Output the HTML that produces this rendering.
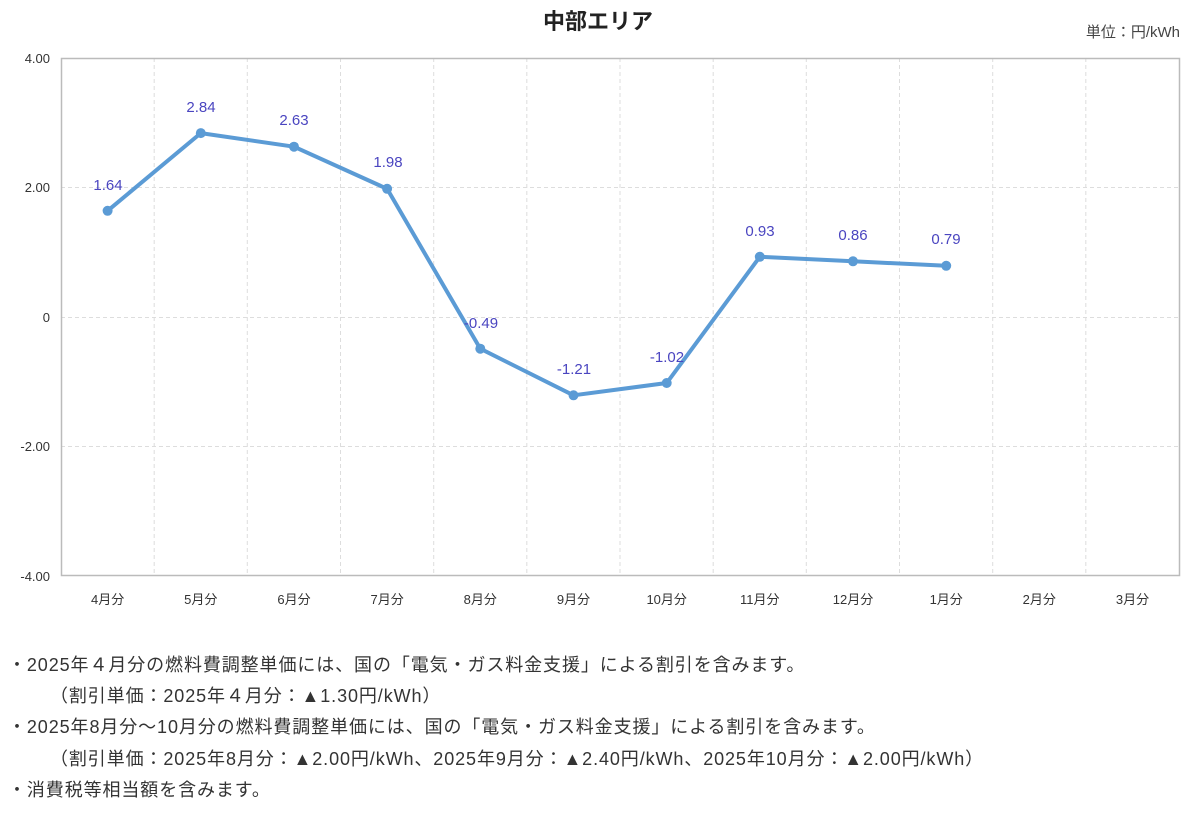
<!DOCTYPE html>
<html><head><meta charset="utf-8"><style>
body{margin:0;background:#fff;width:1200px;height:814px;overflow:hidden;font-family:"Liberation Sans","Noto Sans CJK JP",sans-serif}
.n{position:absolute;left:8px;font-size:18px;letter-spacing:0.9px;color:#333;white-space:nowrap}
</style></head><body>
<svg width="1200" height="640" style="position:absolute;left:0;top:0" font-family="Liberation Sans, Noto Sans CJK JP, sans-serif">
<text x="598" y="29" text-anchor="middle" font-size="22" font-weight="bold" fill="#222">中部エリア</text>
<text x="1180" y="37" text-anchor="end" font-size="15" fill="#444">単位：円/kWh</text>
<g stroke="#ddd" stroke-dasharray="4,3" stroke-width="1">
<line x1="61" y1="187.5" x2="1179" y2="187.5"/><line x1="61" y1="317.5" x2="1179" y2="317.5"/><line x1="61" y1="446.5" x2="1179" y2="446.5"/>
<line x1="154.2" y1="58" x2="154.2" y2="576"/><line x1="247.3" y1="58" x2="247.3" y2="576"/><line x1="340.5" y1="58" x2="340.5" y2="576"/><line x1="433.7" y1="58" x2="433.7" y2="576"/><line x1="526.8" y1="58" x2="526.8" y2="576"/><line x1="620" y1="58" x2="620" y2="576"/><line x1="713.2" y1="58" x2="713.2" y2="576"/><line x1="806.3" y1="58" x2="806.3" y2="576"/><line x1="899.5" y1="58" x2="899.5" y2="576"/><line x1="992.7" y1="58" x2="992.7" y2="576"/><line x1="1085.8" y1="58" x2="1085.8" y2="576"/>
</g>
<rect x="61.5" y="58.5" width="1118" height="517" fill="none" stroke="#bbb" stroke-width="1.5"/>
<g font-size="13" fill="#333" text-anchor="end">
<text x="50" y="63">4.00</text><text x="50" y="192">2.00</text><text x="50" y="322">0</text><text x="50" y="451">-2.00</text><text x="50" y="581">-4.00</text>
</g>
<g font-size="13" fill="#333" text-anchor="middle">
<text x="107.6" y="604">4月分</text><text x="200.8" y="604">5月分</text><text x="294" y="604">6月分</text><text x="387.1" y="604">7月分</text><text x="480.3" y="604">8月分</text><text x="573.5" y="604">9月分</text><text x="666.7" y="604">10月分</text><text x="759.8" y="604">11月分</text><text x="853" y="604">12月分</text><text x="946.2" y="604">1月分</text><text x="1039.3" y="604">2月分</text><text x="1132.5" y="604">3月分</text>
</g>
<polyline fill="none" stroke="#5b9bd5" stroke-width="4" stroke-linejoin="round" points="107.6,210.8 200.8,133.1 294,146.7 387.1,188.8 480.3,348.7 573.5,395.3 666.7,383 759.8,256.8 853,261.3 946.2,265.8"/>
<g fill="#5b9bd5">
<circle cx="107.6" cy="210.8" r="5"/><circle cx="200.8" cy="133.1" r="5"/><circle cx="294" cy="146.7" r="5"/><circle cx="387.1" cy="188.8" r="5"/><circle cx="480.3" cy="348.7" r="5"/><circle cx="573.5" cy="395.3" r="5"/><circle cx="666.7" cy="383" r="5"/><circle cx="759.8" cy="256.8" r="5"/><circle cx="853" cy="261.3" r="5"/><circle cx="946.2" cy="265.8" r="5"/>
</g>
<g font-size="15" fill="#4a45c0" text-anchor="middle">
<text x="108" y="190">1.64</text><text x="201" y="112">2.84</text><text x="294" y="125">2.63</text><text x="388" y="167">1.98</text><text x="481" y="328">-0.49</text><text x="574" y="374">-1.21</text><text x="667" y="362">-1.02</text><text x="760" y="236">0.93</text><text x="853" y="240">0.86</text><text x="946" y="244">0.79</text>
</g>
</svg>
<div class="n" style="top:651px">・2025年４月分の燃料費調整単価には、国の「電気・ガス料金支援」による割引を含みます。</div>
<div class="n" style="top:682px;left:50px">（割引単価：2025年４月分：▲1.30円/kWh）</div>
<div class="n" style="top:713px">・2025年8月分～10月分の燃料費調整単価には、国の「電気・ガス料金支援」による割引を含みます。</div>
<div class="n" style="top:745px;left:50px">（割引単価：2025年8月分：▲2.00円/kWh、2025年9月分：▲2.40円/kWh、2025年10月分：▲2.00円/kWh）</div>
<div class="n" style="top:776px">・消費税等相当額を含みます。</div>
</body></html>
